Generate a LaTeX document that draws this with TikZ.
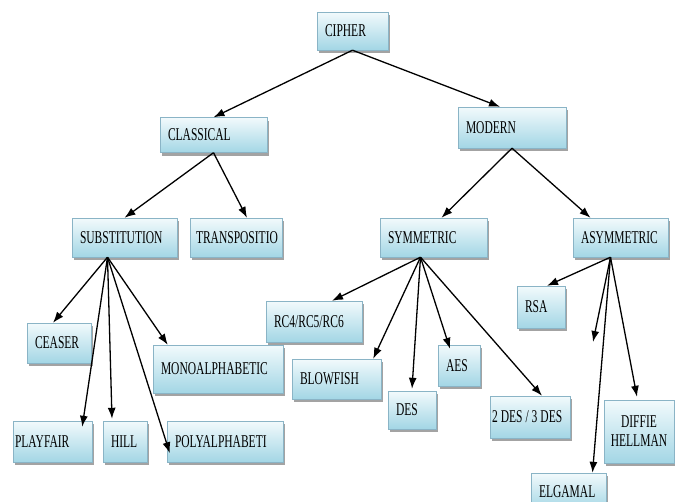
\documentclass[tikz,border=0pt]{standalone}
\usepackage{fontspec}
\setmainfont{Liberation Serif}[FakeStretch=0.64]
\usetikzlibrary{calc,positioning,arrows.meta,shadows}
\definecolor{boxtop}{HTML}{F2FAFC}
\definecolor{boxbot}{HTML}{A3D6E5}
\definecolor{boxline}{HTML}{8AB4C6}

\begin{document}
\begin{tikzpicture}[x=1pt,y=-1pt,>={Latex[length=11pt,width=8pt]},
    cbox/.style={draw=boxline,top color=boxtop,bottom color=boxbot,inner xsep=8pt,inner ysep=2pt,
        align=left,font=\fontsize{18}{19}\selectfont,
        drop shadow={shadow xshift=2pt,shadow yshift=-3pt,opacity=.45,fill=black!80}},
    link/.style={->,line width=1.3pt}]
            \useasboundingbox (0,0) rectangle (675,501);

            % top levels
            \node[cbox,text width=55pt,minimum height=38] (cipher) at (352.5,31) {CIPHER};
            \node[cbox,text width=91pt,minimum height=35] (classical) at (213.5,135) {CLASSICAL};
            \node[cbox,text width=92pt,minimum height=41] (modern) at (512,127.5) {MODERN};

            \node[cbox,text width=89pt,minimum height=39] (subst) at (124.5,237.5) {SUBSTITUTION};
            \node[cbox,text width=80pt,inner xsep=6pt,minimum height=39] (transp) at (236,237.5) {TRANSPOSITIO};
            \node[cbox,text width=91pt,minimum height=39] (symm) at (433.5,237.5) {SYMMETRIC};
            \node[cbox,text width=79pt,minimum height=39] (asymm) at (620.5,237.5) {ASYMMETRIC};

            % classical leaves
            \node[cbox,text width=48pt,minimum height=40] (ceaser) at (59,343) {CEASER};
            \node[cbox,text width=114pt,minimum height=48] (mono) at (218,369) {MONOALPHABETIC};
            \node[cbox,text width=75pt,inner xsep=2pt,minimum height=41] (playfair) at (52.5,441.5) {PLAYFAIR};
            \node[cbox,text width=28pt,minimum height=41] (hill) at (125,441.5) {HILL};
            \node[cbox,text width=100pt,minimum height=41] (poly) at (225,441.5) {POLYALPHABETI};

            % modern leaves
            \node[cbox,text width=80pt,minimum height=41] (rc) at (314,321.5) {RC4/RC5/RC6};
            \node[cbox,text width=73pt,minimum height=40] (blowfish) at (336.5,379) {BLOWFISH};
            \node[cbox,text width=32pt,minimum height=38] (des) at (412,410) {DES};
            \node[cbox,text width=26pt,minimum height=41] (aes) at (459,365.5) {AES};
            \node[cbox,text width=76pt,inner xsep=2pt,minimum height=42] (tdes) at (530,417) {\mbox{\spaceskip=3pt\relax 2 DES / 3 DES}};
            \node[cbox,text width=32pt,minimum height=42] (rsa) at (541,307) {RSA};
            \node[cbox,text width=66pt,inner xsep=2pt,minimum height=63,align=center] (diffie) at (639,431.5) {DIFFIE\\HELLMAN};
            \node[cbox,text width=59pt,minimum height=37] (elgamal) at (568.5,491.5) {ELGAMAL};
            \coordinate (asymfree) at (593,342);

            \draw[link] (cipher.south) -- (classical.north);
            \draw[link] (cipher.south) -- ($(modern.north)+(-12,0)$);
            \draw[link] (classical.south) -- (subst.north);
            \draw[link] (classical.south) -- ($(transp.north)+(11,0)$);
            \draw[link] (modern.south) -- ($(symm.north)+(8,0)$);
            \draw[link] (modern.south) -- ($(asymm.north)+(-30,0)$);

            \draw[link] ($(subst.south)+(-17,0)$) -- ($(ceaser.north)+(-6,0)$);
            \draw[link] ($(subst.south)+(-17,0)$) -- ($(playfair.north east)+(-10,6)$);
            \draw[link] ($(subst.south)+(-17,0)$) -- ($(hill.north)+(-13,-2)$);
            \draw[link] ($(subst.south)+(-17,0)$) -- ($(poly.south west)+(3,-9)$);
            \draw[link] ($(subst.south)+(-17,0)$) -- ($(mono.north west)+(15,0)$);

            \draw[link] ($(symm.south)+(-13,0)$) -- ($(rc.north)+(18,0)$);
            \draw[link] ($(symm.south)+(-13,0)$) -- ($(blowfish.north east)+(-8,0)$);
            \draw[link] ($(symm.south)+(-13,0)$) -- ($(des.north)+(0,-2)$);
            \draw[link] ($(symm.south)+(-13,0)$) -- ($(aes.north)+(-9,4)$);
            \draw[link] ($(symm.south)+(-13,0)$) -- ($(tdes.north)+(12,0)$);

            \draw[link] ($(asymm.south)+(-10,0)$) -- ($(rsa.north)+(6,0)$);
            \draw[link] ($(asymm.south)+(-10,0)$) -- (asymfree);
            \draw[link] ($(asymm.south)+(-10,0)$) -- ($(elgamal.north)+(24,0)$);
            \draw[link] ($(asymm.south)+(-10,0)$) -- ($(diffie.north)+(-2,-3)$);
        \end{tikzpicture}
\end{document}
